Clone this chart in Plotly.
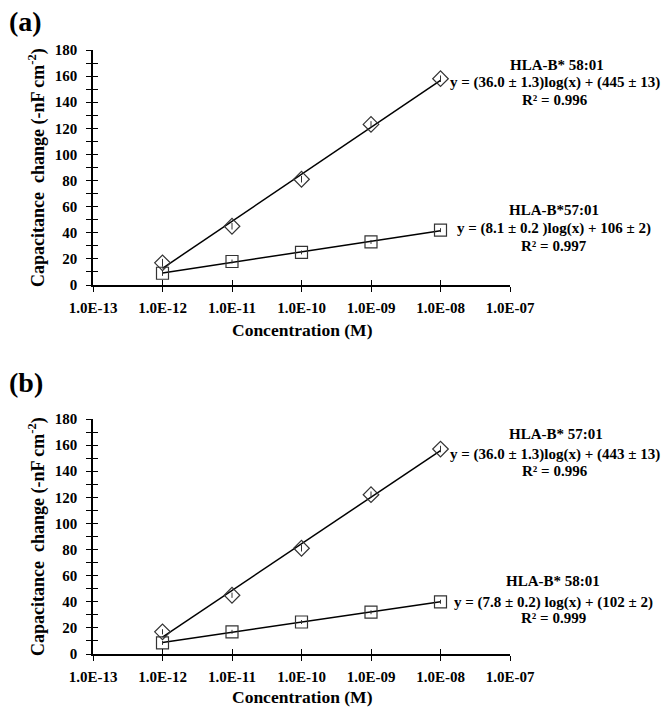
import numpy as np
import plotly.graph_objects as go

# ---------------- data ----------------
conc = [1e-12, 1e-11, 1e-10, 1e-9, 1e-8]
tick_vals = [1e-13, 1e-12, 1e-11, 1e-10, 1e-9, 1e-8, 1e-7]
tick_text = ["1.0E-13", "1.0E-12", "1.0E-11", "1.0E-10", "1.0E-09", "1.0E-08", "1.0E-07"]

a_upper = [17, 45, 81, 123, 158]      # HLA-B* 58:01 (a)
a_upper_err = [3, 2.5, 2.5, 2.5, 2.5]
a_lower = [9, 18, 25, 33, 42]         # HLA-B*57:01 (a)
a_lower_err = [2, 1.5, 1.5, 1.5, 1.5]

b_upper = [17, 45, 81, 122, 157]      # HLA-B* 57:01 (b)
b_upper_err = [2, 2, 2.5, 2.5, 2.5]
b_lower = [8.5, 17, 24.5, 32, 40]     # HLA-B* 58:01 (b)
b_lower_err = [1.5, 1.5, 1.5, 1.5, 1.5]

a_labels = [["HLA-B* 58:01", "y = (36.0 ± 1.3)log(x) + (445 ± 13)", "R² = 0.996"],
            ["HLA-B*57:01", "y = (8.1 ± 0.2 )log(x) + 106 ± 2)", "R² = 0.997"]]
b_labels = [["HLA-B* 57:01", "y = (36.0 ± 1.3)log(x) + (443 ± 13)", "R² = 0.996"],
            ["HLA-B* 58:01", "y = (7.8 ± 0.2) log(x) + (102 ± 2)", "R² = 0.999"]]

FONT = "Liberation Serif"
W, H = 667, 707


def px(x):
    return x / W


def py(y):
    return 1 - y / H


fig = go.Figure()


def add_series(vals, errs, symbol, xa, ya):
    lx = np.log10(conc)
    k, b = np.polyfit(lx, vals, 1)
    fx = [conc[0], conc[-1]]
    fy = [k * np.log10(conc[0]) + b, k * np.log10(conc[-1]) + b]
    fig.add_trace(go.Scatter(x=fx, y=fy, mode="lines", xaxis=xa, yaxis=ya,
                             line=dict(color="black", width=1.5),
                             showlegend=False, hoverinfo="skip"))
    fig.add_trace(go.Scatter(x=conc, y=vals, mode="markers", xaxis=xa, yaxis=ya,
                             marker=dict(symbol=symbol, size=12, color="#333333",
                                         line=dict(color="#333333", width=1.2)),
                             error_y=dict(type="data", array=errs, color="#333333",
                                          thickness=1, width=0),
                             showlegend=False))


add_series(a_upper, a_upper_err, "diamond-open", "x", "y")
add_series(a_lower, a_lower_err, "square-open", "x", "y")
add_series(b_upper, b_upper_err, "diamond-open", "x2", "y2")
add_series(b_lower, b_lower_err, "square-open", "x2", "y2")

# invisible traces for the overlay (inside-tick) axes
fig.add_trace(go.Scatter(x=[1e-10], y=[90], xaxis="x3", yaxis="y3", mode="markers",
                         marker=dict(opacity=0), showlegend=False, hoverinfo="skip"))
fig.add_trace(go.Scatter(x=[1e-10], y=[90], xaxis="x4", yaxis="y4", mode="markers",
                         marker=dict(opacity=0), showlegend=False, hoverinfo="skip"))

xdom = [px(93), px(510)]
ydom_a = [py(285), py(50)]
ydom_b = [py(654), py(419)]

tickfont = dict(family=FONT, size=15, color="black", weight="bold")


def xaxis(anchor, inside=False, overlay=None):
    d = dict(type="log", range=[-13, -7], domain=xdom, anchor=anchor,
             tickvals=tick_vals, ticktext=tick_text, tickfont=tickfont,
             ticks="inside" if inside else "outside", ticklen=5, tickwidth=1.2,
             tickcolor="black", showgrid=False, zeroline=False,
             showline=not inside, linecolor="black", linewidth=1.5,
             showticklabels=not inside, ticklabelstandoff=3, automargin=False)
    if overlay:
        d["overlaying"] = overlay
    return d


def yaxis(anchor, dom, inside=False, overlay=None):
    d = dict(range=[0, 180], domain=dom, anchor=anchor, dtick=20, tick0=0,
             tickfont=tickfont, ticks="inside" if inside else "outside",
             ticklen=5, tickwidth=1.2, tickcolor="black",
             minor=dict(dtick=10, ticks="inside" if inside else "outside",
                        ticklen=5, tickwidth=1.2, tickcolor="black", showgrid=False),
             showgrid=False, zeroline=False, showline=not inside,
             linecolor="black", linewidth=1.5, showticklabels=not inside,
             ticklabelstandoff=6, automargin=False)
    if overlay:
        d["overlaying"] = overlay
    return d


annotations = []


def panel_text(label, top_ytitle, ytitle_center, xtitle_y, labels, label_ys):
    annotations.append(dict(text="<b>%s</b>" % label, x=px(7), y=py(top_ytitle),
                            xref="paper", yref="paper", xanchor="left", yanchor="middle",
                            showarrow=False, font=dict(family=FONT, size=28, color="black")))
    annotations.append(dict(text="<b>Capacitance  change (-nF cm<sup>-2</sup>)</b>",
                            x=px(37), y=py(ytitle_center), xref="paper", yref="paper",
                            textangle=-90, showarrow=False, xanchor="center", yanchor="middle",
                            font=dict(family=FONT, size=18, color="black")))
    annotations.append(dict(text="<b>Concentration (M)</b>", x=px(302), y=py(xtitle_y),
                            xref="paper", yref="paper", showarrow=False,
                            xanchor="center", yanchor="middle",
                            font=dict(family=FONT, size=17.5, color="black")))
    for grp, ys in zip(labels, label_ys):
        for t, (xc, yc) in zip(grp, ys):
            annotations.append(dict(text="<b>%s</b>" % t, x=px(xc), y=py(yc),
                                    xref="paper", yref="paper", showarrow=False,
                                    xanchor="center", yanchor="middle",
                                    font=dict(family=FONT, size=15, color="black")))


panel_text("(a)", 22, 168, 330, a_labels,
           [[(557, 65), (555, 83), (555, 100)], [(554, 210), (554, 229), (554, 246)]])
panel_text("(b)", 382, 537, 697, b_labels,
           [[(556, 434), (555, 454), (555, 471)], [(553, 581), (553, 602), (553, 618)]])

fig.update_layout(
    template="none",
    width=W, height=H,
    margin=dict(l=0, r=0, t=0, b=0, autoexpand=False),
    paper_bgcolor="white", plot_bgcolor="white",
    font=dict(family=FONT, color="black"),
    showlegend=False,
    xaxis=xaxis("y"),
    yaxis=yaxis("x", ydom_a),
    xaxis2=xaxis("y2"),
    yaxis2=yaxis("x2", ydom_b),
    xaxis3=xaxis("y3", inside=True, overlay="x"),
    yaxis3=yaxis("x3", ydom_a, inside=True, overlay="y"),
    xaxis4=xaxis("y4", inside=True, overlay="x2"),
    yaxis4=yaxis("x4", ydom_b, inside=True, overlay="y2"),
    annotations=annotations,
)

fig.write_html("out.html", config={"displayModeBar": False},
               post_script="document.body.style.margin='0px';document.body.style.overflow='hidden';")
